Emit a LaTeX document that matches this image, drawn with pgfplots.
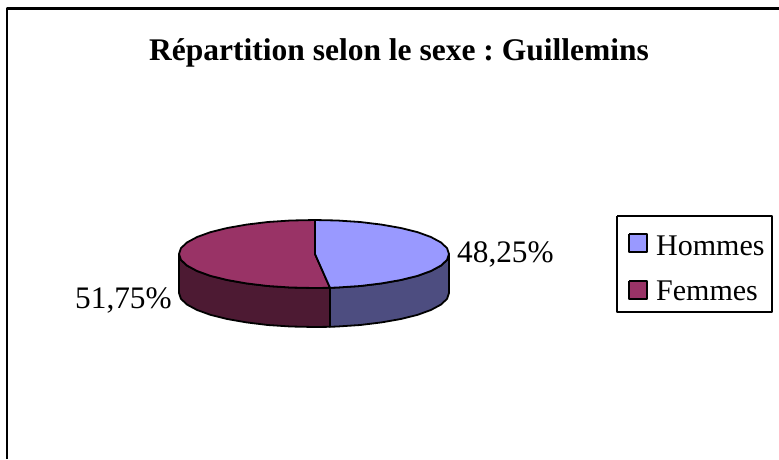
\documentclass[border=0pt]{standalone}
\usepackage{fontspec}
\setmainfont{Liberation Serif}
\usepackage{pgfplots}
\pgfplotsset{compat=1.18}
\definecolor{hom}{RGB}{153,153,255}
\definecolor{homd}{RGB}{77,77,128}
\definecolor{fem}{RGB}{153,51,102}
\definecolor{femd}{RGB}{77,26,51}
\frenchspacing
\begin{document}
\begin{tikzpicture}
\begin{axis}[
  scale only axis, width=779pt, height=459pt,
  xmin=0, xmax=779, ymin=0, ymax=459, y dir=reverse,
  axis lines=none, clip=true,
  every axis plot/.append style={line join=round},
]
% page background, keeps the whole picture in the bounding box
\addplot[fill=white, draw=none, forget plot] coordinates {(0,0) (779,0) (779,459) (0,459) (0,0)};
% chart frame
\addplot[black, line width=2.6pt, forget plot] coordinates {(7,459) (7,8.3) (779,8.3)};
% side faces
\addplot[fill=femd, draw=black, line width=1.8pt] coordinates {
 (179,254) (181,259.9) (187.1,265.6) (197.1,271) (210.6,275.9) (227.2,280) (246.5,283.4) (267.8,286) (290.6,287.5) (314,288) (330,287.8)
 (330,326.8) (314,327) (290.6,326.5) (267.8,325) (246.5,322.4) (227.2,319) (210.6,314.9) (197.1,310) (187.1,304.6) (181,298.9) (179,293) (179,254)};
\addplot[fill=homd, draw=black, line width=1.8pt] coordinates {
 (330,287.8) (337.4,287.5) (360.2,286) (381.5,283.4) (400.8,280) (417.4,275.9) (430.9,271) (440.9,265.6) (447,259.9) (449,254)
 (449,293) (447,298.9) (440.9,304.6) (430.9,310) (417.4,314.9) (400.8,319) (381.5,322.4) (360.2,325) (337.4,326.5) (330,326.8) (330,287.8)};
% top faces
\addplot[fill=fem, draw=black, line width=1.8pt] coordinates {
 (315,254) (330,287.8) (314,288) (290.6,287.5) (267.8,286) (246.5,283.4) (227.2,280) (210.6,275.9) (197.1,271) (187.1,265.6) (181,259.9) (179,254)
 (181,248.1) (187.1,242.4) (197.1,237) (210.6,232.1) (227.2,228) (246.5,224.6) (267.8,222) (290.6,220.5) (315,220) (315,254)};
\addplot[fill=hom, draw=black, line width=1.8pt] coordinates {
 (315,220) (337.4,220.5) (360.2,222) (381.5,224.6) (400.8,228) (417.4,232.1) (430.9,237) (440.9,242.4) (447,248.1) (449,254)
 (447,259.9) (440.9,265.6) (430.9,271) (417.4,275.9) (400.8,280) (381.5,283.4) (360.2,286) (337.4,287.5) (330,287.8) (315,254) (315,220)};
% legend box and swatches
\addplot[black, line width=1.7pt, fill=white] coordinates {(617,216) (772,216) (772,312) (617,312) (617,216)};
\addplot[fill=hom, draw=black, line width=1.6pt] coordinates {(629,234) (647,234) (647,252) (629,252) (629,234)};
\addplot[fill=fem, draw=black, line width=1.6pt] coordinates {(629,281) (647,281) (647,299) (629,299) (629,281)};
% text
\node[anchor=base, font=\fontsize{31.5}{34}\selectfont\bfseries, inner sep=0pt] at (axis cs:399,60) {Répartition selon le sexe : Guillemins};
\node[anchor=base west, font=\fontsize{31.3}{34}\selectfont, inner sep=0pt] at (axis cs:457,262.5) {48,25\%};
\node[anchor=base west, font=\fontsize{31.3}{34}\selectfont, inner sep=0pt] at (axis cs:75,308.5) {51,75\%};
\node[anchor=base west, font=\fontsize{30}{34}\selectfont, inner sep=0pt] at (axis cs:656,255) {Hommes};
\node[anchor=base west, font=\fontsize{30}{34}\selectfont, inner sep=0pt] at (axis cs:656,300) {Femmes};
\end{axis}
\end{tikzpicture}
\end{document}
